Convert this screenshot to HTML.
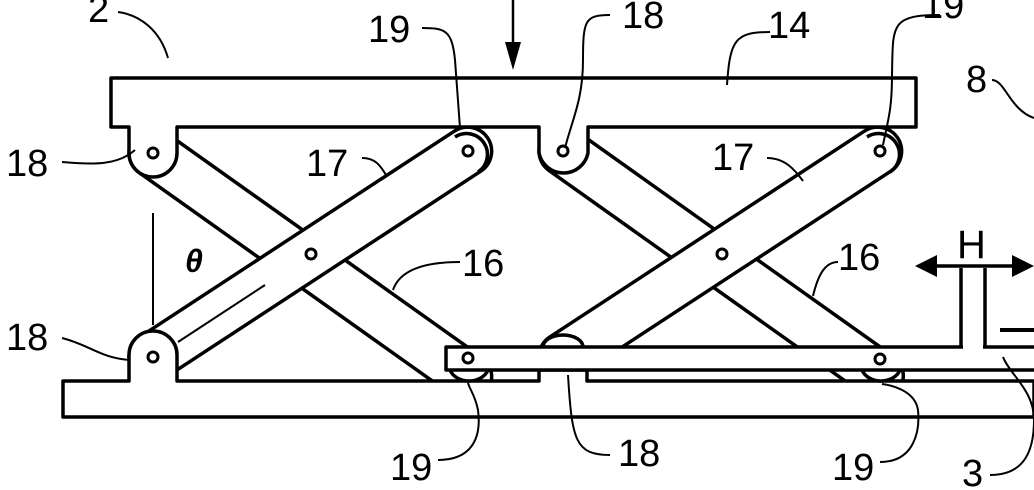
<!DOCTYPE html>
<html><head><meta charset="utf-8"><style>
html,body{margin:0;padding:0;background:#fff;}
svg{display:block;}
text{font-family:"Liberation Sans",sans-serif;font-size:38px;fill:#000;}
</style></head><body>
<svg width="1034" height="490" viewBox="0 0 1034 490" xmlns="http://www.w3.org/2000/svg">
<g stroke="#000" stroke-width="3.5" fill="#fff" stroke-linejoin="round">
<g transform="translate(153,153) rotate(35.4)"><rect x="-24" y="-24" width="434" height="48" rx="24"/></g>
<g transform="translate(563,151) rotate(35.4)"><rect x="-24" y="-24" width="436" height="48" rx="24"/></g>
<g transform="translate(153,357) rotate(-33.2)"><rect x="-24" y="-24" width="424" height="48" rx="24"/></g>
<g transform="translate(563,357) rotate(-33.2)"><rect x="-24" y="-24" width="424" height="48" rx="24"/></g>
<path d="M63,381 H129 V355 A24,24 0 0 1 177,355 V381 H539 V370 H587 V381 H1034 V417 H63 Z"/>
<path d="M111,78 H916 V127 H588 V153 A25,25 0 0 1 539,153 V127 H177 V153 A24,24 0 0 1 129,153 V127 H111 Z"/>
<path d="M450,370 A20,16 0 0 0 488,370" />
<path d="M862,370 A20,16 0 0 0 900,370" />
<path d="M543,347 A20,12 0 0 1 583,347"/>
<rect x="446" y="347" width="600" height="23" />
<rect x="963" y="268" width="20" height="81" stroke="none"/>
<path d="M961,347 V268 M985,268 V347" fill="none"/>
<path d="M455,137 A20,20 0 1 1 478,172" fill="none"/>
<path d="M867,137 A20,20 0 1 1 890,172" fill="none"/>
</g>
<g fill="#fff" stroke="#000" stroke-width="3">
<circle cx="153" cy="153" r="5"/><circle cx="153" cy="357" r="5"/>
<circle cx="468" cy="151" r="5"/><circle cx="563" cy="151" r="5"/>
<circle cx="880" cy="151" r="5"/><circle cx="311" cy="254" r="5"/>
<circle cx="722" cy="254" r="5"/><circle cx="468" cy="358" r="5"/>
<circle cx="880" cy="359" r="5"/>
</g>
<g stroke="#000" fill="none" stroke-width="2">
<line x1="153" y1="213" x2="153" y2="325"/>
<line x1="178" y1="342" x2="265" y2="285"/>
<line x1="1000" y1="330" x2="1034" y2="330" stroke-width="4"/>
<line x1="930" y1="266" x2="1022" y2="266" stroke-width="3.5"/>
<path d="M118,12 C140,15 160,30 168,58"/>
<path d="M422,28 C445,28 452,30 455,60 L460,128"/>
<path d="M610,15 C585,15 583,20 583,60 C583,100 572,120 565,148"/>
<path d="M770,32 C735,32 730,40 727,85"/>
<path d="M940,15 C890,15 893,25 892,75 C892,110 888,120 883,145"/>
<path d="M992,80 C1005,80 1010,110 1034,118"/>
<path d="M62,162 C95,165 118,165 135,150"/>
<path d="M362,158 C375,158 380,165 386,175"/>
<path d="M767,158 C785,158 795,170 803,181"/>
<path d="M460,262 C415,262 398,275 393,290"/>
<path d="M838,262 C825,262 818,275 813,296"/>
<path d="M62,338 C90,345 100,358 130,360"/>
<path d="M438,460 C470,460 482,440 478,410 C475,395 470,390 468,383"/>
<path d="M610,455 C575,455 572,440 568,375"/>
<path d="M880,462 C915,462 920,430 918,410 C915,390 890,385 882,384"/>
<path d="M990,475 C1025,475 1034,450 1034,420 C1034,390 1010,375 1003,357"/>
</g>
<polygon points="915,266 937,255 937,277" fill="#000"/>
<polygon points="1034,266 1012,255 1012,277" fill="#000"/>
<line x1="513" y1="0" x2="513" y2="52" stroke="#000" stroke-width="2.5"/>
<polygon points="513,70 505,42 521,42" fill="#000"/>
<text x="88" y="22">2</text>
<text x="368" y="42">19</text>
<text x="622" y="28">18</text>
<text x="768" y="38">14</text>
<text x="922" y="18">19</text>
<text x="966" y="92">8</text>
<text x="6" y="176">18</text>
<text x="306" y="176">17</text>
<text x="712" y="170">17</text>
<text x="462" y="276">16</text>
<text x="838" y="270">16</text>
<text x="185" y="272" style="font-style:italic;font-weight:bold;font-size:32px">θ</text>
<text x="6" y="350">18</text>
<text x="957" y="258" style="font-size:40px">H</text>
<text x="390" y="480">19</text>
<text x="618" y="466">18</text>
<text x="832" y="480">19</text>
<text x="962" y="486">3</text>
</svg>
</body></html>
